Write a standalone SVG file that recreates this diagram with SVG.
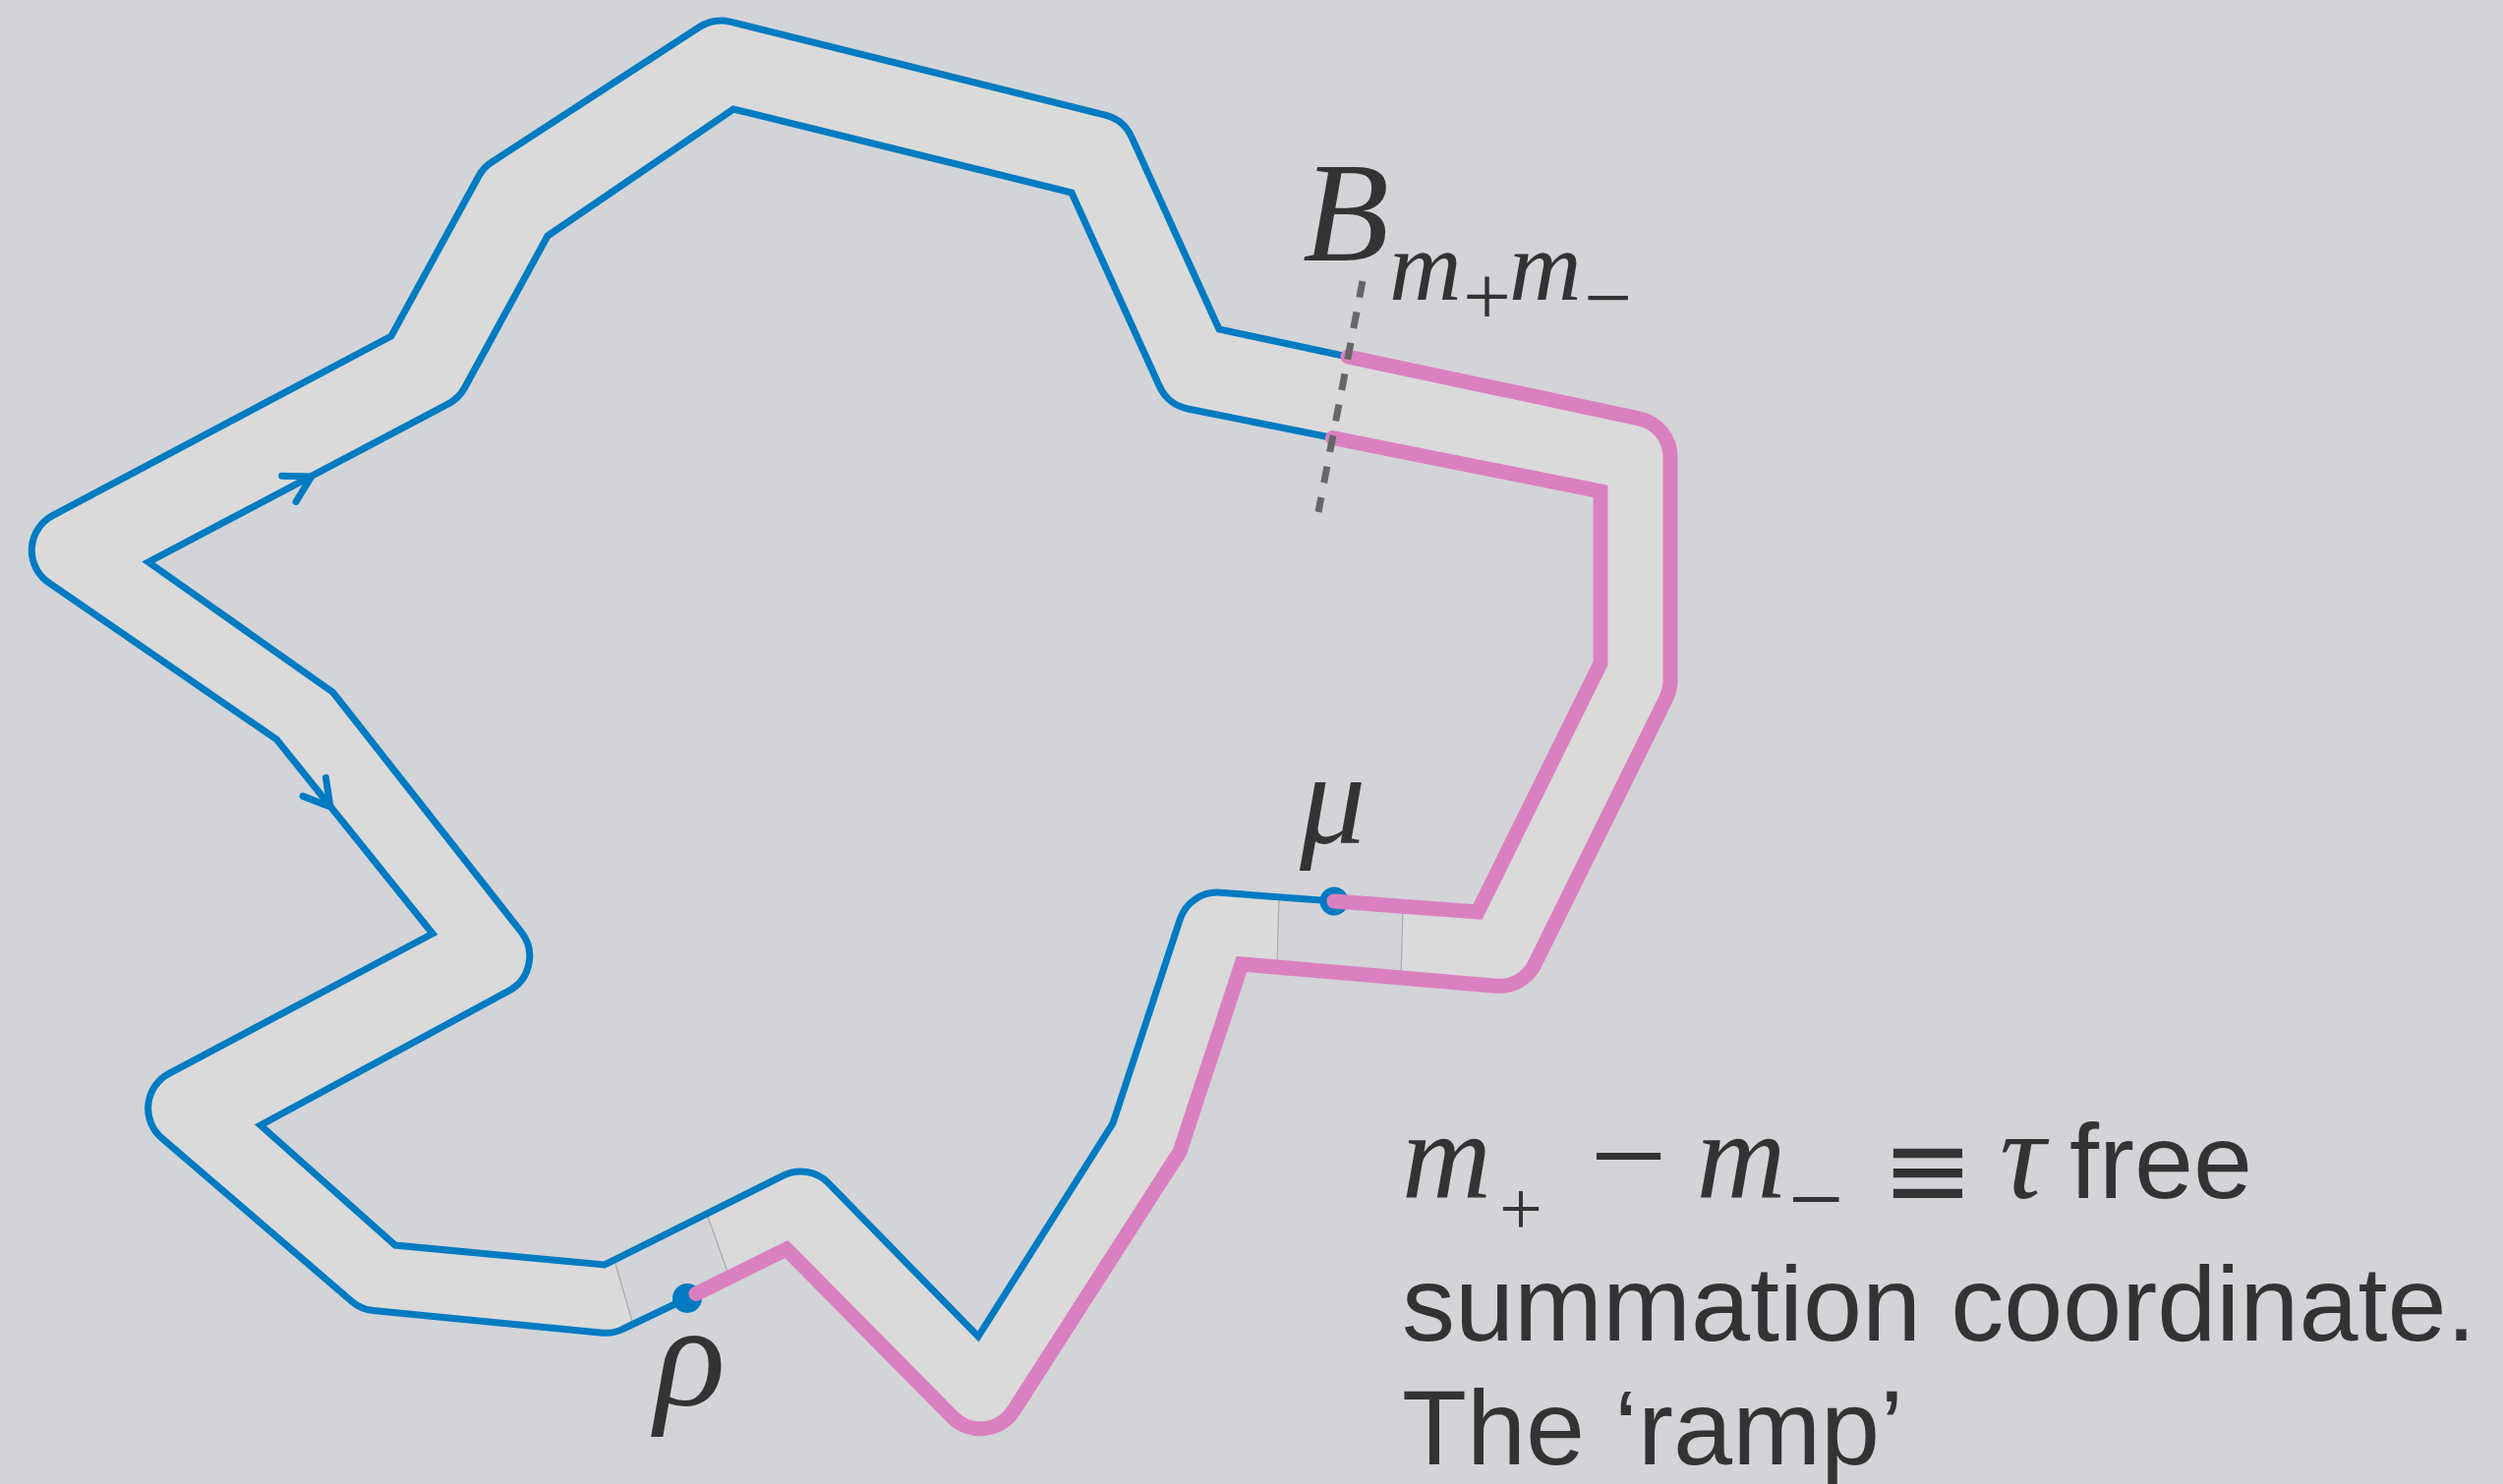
<svg xmlns="http://www.w3.org/2000/svg" width="2546" height="1510" viewBox="0 0 2546 1510">
<defs>
<style>
.bg{fill:#d3d4d8}
.band{fill:#dadada;fill-rule:evenodd}
.gap{fill:#d3d4d8}
.cut{stroke:#a9a9ab;stroke-width:1.2;fill:none}
.blue{fill:none;stroke:#007bc2;stroke-width:7;stroke-linejoin:miter;stroke-miterlimit:10}
.pink{fill:none;stroke:#da80c0;stroke-width:15;stroke-linejoin:miter;stroke-linecap:round;stroke-miterlimit:10}
.arrow{fill:none;stroke:#007bc2;stroke-width:7;stroke-linecap:round;stroke-linejoin:round}
.dot{fill:#007bc2}
.dash{stroke:#666666;stroke-width:7;stroke-dasharray:17 15;fill:none}
.math{font-family:"Liberation Serif","DejaVu Serif",serif;font-style:italic;fill:#333333}
.up{font-style:normal;font-family:"Liberation Serif","DejaVu Serif",serif}
.eq{font-style:normal;font-family:"DejaVu Sans",sans-serif}
.sw{font-style:normal;font-family:"Liberation Sans",Arial,sans-serif}
.sans{font-family:"Liberation Sans",Arial,sans-serif;fill:#333333}
</style>
<path id="chev" d="M -26,-15 L 0,0 L -26,15"/>
</defs>
<rect class="bg" x="0" y="0" width="2546" height="1510"/>
<g id="band">
<path class="band" d="M 53.5,524.6 L 398,342 L 486.9,179.2 A 40 40 0 0 1 500.1,165 L 711.4,27.5 A 40 40 0 0 1 742.9,22.2 L 1124.3,117.1 A 40 40 0 0 1 1151,139.4 L 1240,335 L 1667.3,425.8 A 40 40 0 0 1 1699,465 L 1699,692.7 A 40 40 0 0 1 1694.9,710.3 L 1561.1,981 A 40 40 0 0 1 1521.8,1003.2 L 1263,981 L 1200,1172 L 1031,1435.4 A 40 40 0 0 1 969,1442.1 L 800,1271 L 634.2,1352 A 40 40 0 0 1 612.7,1356.2 L 379.6,1333.6 A 40 40 0 0 1 357.7,1324.1 L 164.7,1158.2 A 40 40 0 0 1 171.9,1092.4 L 440,950 L 281.3,752.3 L 49.6,592.9 A 40 40 0 0 1 53.5,524.6 Z M 151,572 L 456.1,410.9 A 40 40 0 0 0 472.5,394.8 L 557,240 L 746,111 L 1090,196 L 1179.5,393.3 A 40 40 0 0 0 1208.1,416 L 1628,500 L 1628,675 L 1503,928 L 1241.2,908.2 A 40 40 0 0 0 1200.2,935.7 L 1132,1143 L 995,1360 L 842.7,1203.9 A 40 40 0 0 0 796.2,1196.4 L 615,1287 L 402,1267 L 265,1145 L 517.7,1008.1 A 40 40 0 0 0 530.1,948.1 L 338.7,704.5 Z"/>
<polygon class="gap" points="625,1282 644,1348 742,1299.5 719,1235"/>
<polygon class="gap" points="1301,912.6 1299,984 1425,994.9 1427,922.2"/>
<line class="cut" x1="625" y1="1282" x2="644" y2="1348"/>
<line class="cut" x1="719" y1="1235" x2="742" y2="1299.5"/>
<line class="cut" x1="1301" y1="912.6" x2="1299" y2="984"/>
<line class="cut" x1="1427" y1="922.2" x2="1425" y2="994.9"/>
</g>
<g id="edges">
<path class="blue" d="M 699,1321 L 634.2,1352 A 40 40 0 0 1 612.7,1356.2 L 379.6,1333.6 A 40 40 0 0 1 357.7,1324.1 L 164.7,1158.2 A 40 40 0 0 1 171.9,1092.4 L 440,950 L 281.3,752.3 L 49.6,592.9 A 40 40 0 0 1 53.5,524.6 L 398,342 L 486.9,179.2 A 40 40 0 0 1 500.1,165 L 711.4,27.5 A 40 40 0 0 1 742.9,22.2 L 1124.3,117.1 A 40 40 0 0 1 1151,139.4 L 1240,335 L 1371,363"/>
<path class="blue" d="M 1357,917 L 1241.2,908.2 A 40 40 0 0 0 1200.2,935.7 L 1132,1143 L 995,1360 L 842.7,1203.9 A 40 40 0 0 0 796.2,1196.4 L 615,1287 L 402,1267 L 265,1145 L 517.7,1008.1 A 40 40 0 0 0 530.1,948.1 L 338.7,704.5 L 151,572 L 456.1,410.9 A 40 40 0 0 0 472.5,394.8 L 557,240 L 746,111 L 1090,196 L 1179.5,393.3 A 40 40 0 0 0 1208.1,416 L 1355.5,445.5"/>
<circle class="dot" cx="699" cy="1321" r="15"/>
<circle class="dot" cx="1357" cy="917" r="14.5"/>
<path class="pink" d="M 1371,363 L 1667.3,425.8 A 40 40 0 0 1 1699,465 L 1699,692.7 A 40 40 0 0 1 1694.9,710.3 L 1561.1,981 A 40 40 0 0 1 1521.8,1003.2 L 1263,981 L 1200,1172 L 1031,1435.4 A 40 40 0 0 1 969,1442.1 L 800,1271 L 708,1316.5"/>
<path class="pink" d="M 1355.5,445.5 L 1628,500 L 1628,675 L 1503,928 L 1357,917"/>
<use href="#chev" class="arrow" transform="translate(316.7,485) rotate(-28.6)"/>
<use href="#chev" class="arrow" transform="translate(336,821) rotate(51.2)"/>
<line class="dash" x1="1386" y1="286" x2="1341" y2="521"/>
</g>
<g id="labels">
<text class="math"><tspan x="1325" y="265" font-size="144">B</tspan><tspan x="1413" y="305" font-size="102">m</tspan><tspan class="up" x="1488" y="331" font-size="87">+</tspan><tspan x="1535" y="305" font-size="102">m</tspan><tspan class="up" x="1611" y="332" font-size="87">−</tspan></text>
<text class="math" x="1322" y="858" font-size="134">μ</text>
<text class="math" x="666" y="1430" font-size="150">ρ</text>
</g>
<g id="caption">
<text class="math"><tspan x="1426" y="1219" font-size="126">m</tspan><tspan class="up" x="1525" y="1256" font-size="78">+</tspan><tspan class="up" x="1617" y="1223" font-size="140">−</tspan><tspan x="1725.5" y="1219" font-size="126">m</tspan><tspan class="up" x="1819" y="1254" font-size="100">−</tspan><tspan class="eq" x="1914" y="1229" font-size="112">≡</tspan><tspan x="2034" y="1219" font-size="130">τ</tspan><tspan class="sw" x="2105" y="1219" font-size="108">free</tspan></text>
<text class="sans" x="1426" y="1364" font-size="108">summation coordinate.</text>
<text class="sans" x="1426" y="1490" font-size="108">The ‘ramp’</text>
</g>
</svg>
